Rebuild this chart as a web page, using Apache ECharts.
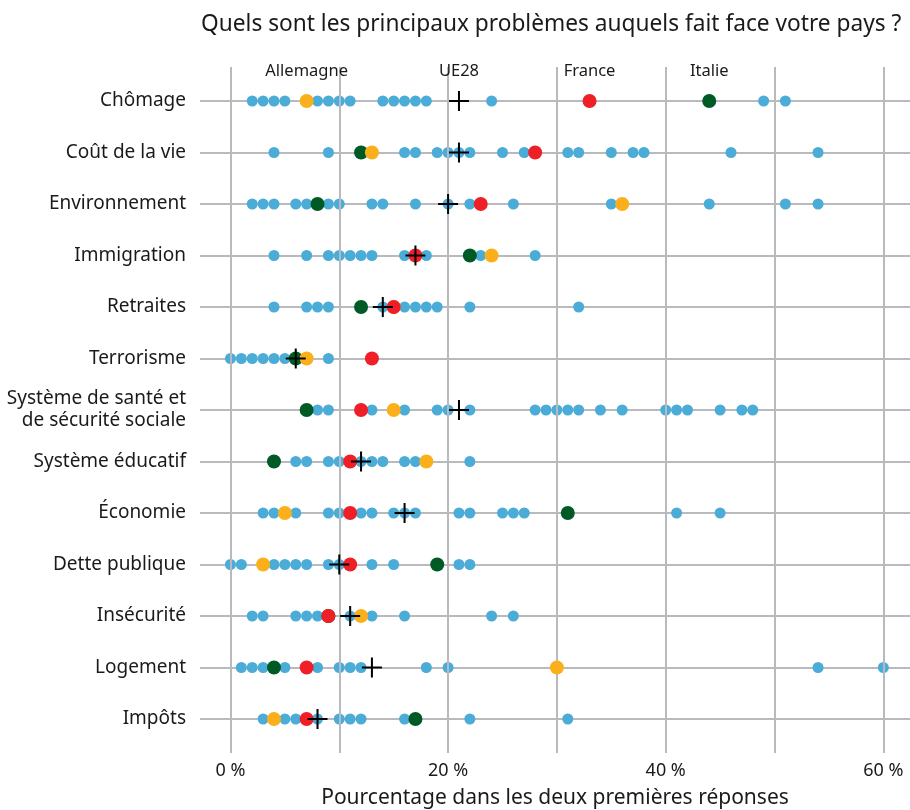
<!DOCTYPE html>
<html>
<head>
<meta charset="utf-8">
<script src="https://cdn.jsdelivr.net/npm/echarts@6/dist/echarts.min.js"></script>
<style>
  html, body { margin: 0; padding: 0; background: #fff; }
  #chart { width: 910px; height: 810px; }
</style>
</head>
<body>
<div id="chart"></div>
<script>
// catégories (de haut en bas)
const categories = [
  'Chômage', 'Coût de la vie', 'Environnement', 'Immigration', 'Retraites',
  'Terrorisme', 'Système de santé et\nde sécurité sociale', 'Système éducatif',
  'Économie', 'Dette publique', 'Insécurité', 'Logement', 'Impôts'
];

// pourcentages
const ueValues = [21, 21, 20, 17, 14, 6, 21, 12, 16, 10, 11, 13, 8];
const allemagneValues = [7, 13, 36, 24, 15, 7, 15, 18, 5, 3, 12, 30, 4];
const franceValues = [33, 28, 23, 17, 15, 13, 12, 11, 11, 11, 9, 7, 7];
const italieValues = [44, 12, 8, 22, 12, 6, 7, 4, 31, 19, 9, 4, 17];
const autresValues = [
  [2, 3, 4, 5, 8, 9, 10, 11, 14, 15, 16, 17, 18, 24, 49, 51],
  [4, 9, 16, 17, 19, 20, 21, 22, 25, 27, 31, 32, 35, 37, 38, 46, 54],
  [2, 3, 4, 6, 7, 9, 10, 13, 14, 17, 20, 22, 26, 35, 44, 51, 54],
  [4, 7, 9, 10, 11, 12, 13, 16, 18, 23, 28],
  [4, 7, 8, 9, 14, 16, 17, 18, 19, 22, 32],
  [0, 1, 2, 3, 4, 5, 6, 9],
  [8, 9, 13, 16, 19, 20, 22, 28, 29, 30, 31, 32, 34, 36, 40, 41, 42, 45, 47, 48],
  [6, 7, 9, 10, 12, 13, 14, 16, 17, 22],
  [3, 4, 6, 9, 10, 12, 13, 15, 16, 17, 21, 22, 25, 26, 27, 41, 45],
  [0, 1, 4, 5, 6, 7, 9, 10, 13, 15, 21, 22],
  [2, 3, 6, 7, 8, 11, 13, 16, 24, 26],
  [1, 2, 3, 5, 8, 10, 11, 12, 18, 20, 54, 60],
  [3, 5, 6, 8, 10, 11, 12, 16, 22, 31]
];
const gridLines = [0, 10, 20, 30, 40, 50, 60];
const tickLabels = [0, 20, 40, 60];

const FONT = 'Noto Sans';
const TXT = '#1a1a1a';
const xMin = -2.8;
const xMax = 62.45;

// le nom du pays est écrit au-dessus de son point de la première ligne
function toPoints(values, showName, dist) {
  return values.map((v, i) => {
    const item = { value: [v, categories[i]] };
    if (i === 0 && showName) {
      item.label = {
        show: true,
        position: 'top',
        distance: dist,
        formatter: showName,
        color: TXT,
        fontSize: 16.5,
        fontFamily: FONT
      };
    }
    return item;
  });
}

const autresPoints = [];
autresValues.forEach((row, i) => {
  row.forEach((v) => autresPoints.push([v, categories[i]]));
});

const chart = echarts.init(document.getElementById('chart'));
const option = {
  animation: false,
  backgroundColor: '#fff',
  title: {
    text: 'Quels sont les principaux problèmes auquels fait face votre pays ?',
    left: 196,
    top: 8,
    textStyle: { fontFamily: FONT, fontSize: 22.7, fontWeight: 'normal', color: TXT }
  },
  grid: [
    { left: 200, right: 0, top: 101, bottom: 91, outerBoundsMode: 'none' },
    { left: 200, right: 0, top: 67, bottom: 57, outerBoundsMode: 'none' }
  ],
  xAxis: [
    { gridIndex: 0, type: 'value', min: xMin, max: xMax, show: false },
    {
      gridIndex: 1, type: 'value', min: xMin, max: xMax,
      axisLine: { show: false },
      axisTick: { show: false },
      splitLine: { show: false },
      axisLabel: {
        customValues: tickLabels,
        formatter: '{value} %',
        margin: 9,
        color: TXT,
        fontSize: 18,
        fontFamily: FONT
      },
      name: 'Pourcentage dans les deux premières réponses',
      nameLocation: 'middle',
      nameGap: 35,
      nameTextStyle: { color: TXT, fontSize: 21, fontFamily: FONT }
    }
  ],
  yAxis: [
    {
      gridIndex: 0, type: 'category', data: categories, inverse: true, boundaryGap: false,
      axisLine: { show: false },
      axisTick: { show: false },
      axisLabel: {
        interval: 0, margin: 14, color: TXT, fontSize: 19,
        fontFamily: FONT, lineHeight: 22, align: 'right'
      },
      splitLine: { show: true, interval: 0, lineStyle: { color: '#b9babd', width: 2 } }
    },
    { gridIndex: 1, type: 'value', min: 0, max: 1, show: false }
  ],
  series: [
    {
      name: 'grille',
      type: 'scatter',
      xAxisIndex: 1, yAxisIndex: 1,
      data: [[xMin, 0]],
      symbolSize: 0,
      silent: true,
      z: 0,
      markLine: {
        silent: true,
        symbol: ['none', 'none'],
        label: { show: false },
        lineStyle: { color: '#b9babd', width: 2, type: 'solid' },
        data: gridLines.map((v) => ({ xAxis: v }))
      }
    },
    {
      name: 'Autres pays',
      type: 'scatter',
      data: autresPoints,
      symbolSize: 11,
      itemStyle: { color: '#4aacd7', opacity: 1 },
      z: 3
    },
    {
      name: 'Italie',
      type: 'scatter',
      data: toPoints(italieValues, 'Italie', 14),
      symbolSize: 14,
      itemStyle: { color: '#005a26', opacity: 1 },
      z: 4
    },
    {
      name: 'Allemagne',
      type: 'scatter',
      data: toPoints(allemagneValues, 'Allemagne', 14),
      symbolSize: 14,
      itemStyle: { color: '#fbb01b', opacity: 1 },
      z: 5
    },
    {
      name: 'France',
      type: 'scatter',
      data: toPoints(franceValues, 'France', 14),
      symbolSize: 14,
      itemStyle: { color: '#ee1f26', opacity: 1 },
      z: 6
    },
    {
      name: 'UE28',
      type: 'scatter',
      data: toPoints(ueValues, 'UE28', 11),
      symbol: 'path://M9,0h2v20h-2z M0,9h20v2h-20z',
      symbolSize: 20,
      itemStyle: { color: '#000', opacity: 1 },
      z: 7
    }
  ]
};
chart.setOption(option);
</script>
</body>
</html>
